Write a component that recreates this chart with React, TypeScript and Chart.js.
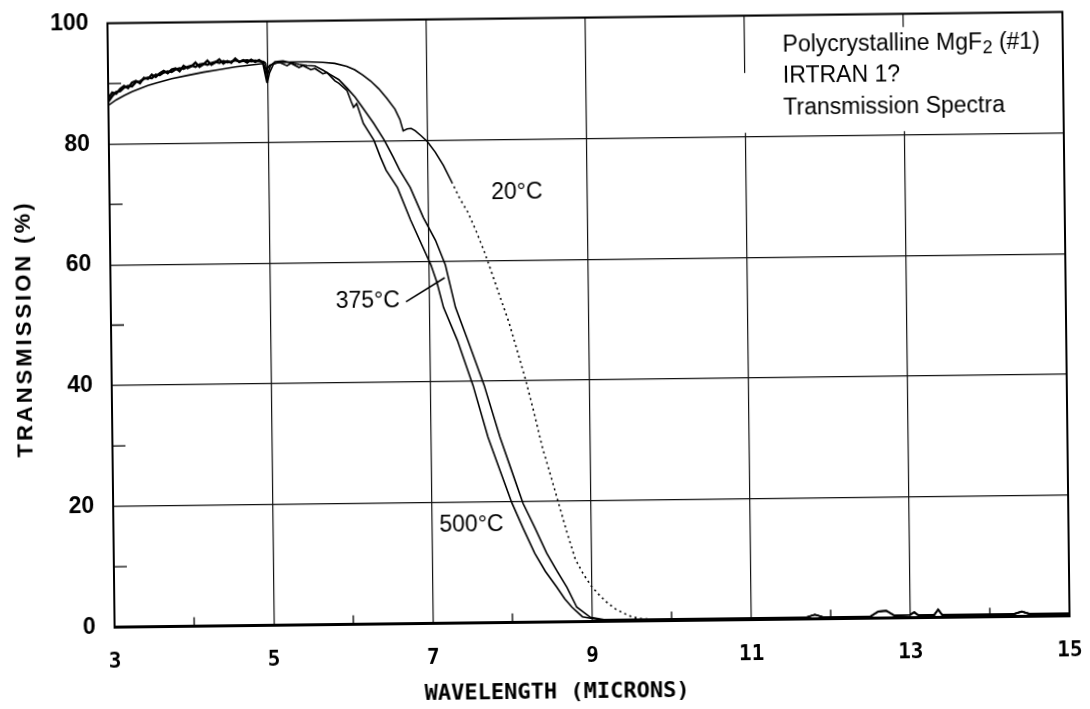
import { useEffect, useRef } from "react";
import { Chart, registerables } from "chart.js";

Chart.register(...registerables);

// Axis ticks
const xTicks = [3, 5, 7, 9, 11, 13, 15];
const yTicks = [0, 20, 40, 60, 80, 100];
const xMinor = [4, 6, 8, 10, 12, 14];
const yMinor = [10, 30, 50, 70, 90];

// 20 °C spectrum (wavelength in microns, transmission in %)
const wl20 = [
  3.0, 3.1, 3.2, 3.3, 3.4, 3.5, 3.6, 3.8, 4.0, 4.2, 4.4, 4.6, 4.8, 4.95, 4.99, 5.03, 5.1,
  5.3, 5.5, 5.7, 5.85, 6.0, 6.1, 6.2, 6.3, 6.4, 6.5, 6.6, 6.66, 6.7, 6.75, 6.8, 6.85, 6.92,
  7.0, 7.1, 7.2, 7.3, 7.4, 7.5, 7.6, 7.7, 7.8, 7.9, 8.0, 8.1, 8.2, 8.3, 8.4, 8.5, 8.6, 8.7,
  8.8, 8.9, 9.0, 9.1, 9.2, 9.3, 9.4, 9.5, 9.6, 9.7,
];
const tr20 = [
  86.4, 87.3, 88.0, 88.6, 89.1, 89.6, 90.0, 90.7, 91.2, 91.7, 92.1, 92.5, 92.8, 93.0, 91.9, 92.7, 93.1,
  93.2, 93.2, 93.1, 92.9, 92.4, 91.8, 90.9, 89.9, 88.6, 87.0, 85.2, 83.5, 81.6, 81.9, 82.0, 81.6, 80.8,
  79.8, 78.0, 75.8, 73.1, 70.3, 68.0, 64.9, 61.5, 57.6, 53.6, 49.7, 45.0, 40.2, 34.8, 29.0, 24.3, 19.5, 14.7,
  10.3, 7.8, 5.8, 4.3, 3.0, 2.0, 1.3, 0.7, 0.4, 0.3,
];

// 375 °C spectrum
const wl375 = [
  3.0, 3.05, 3.1, 3.15, 3.2, 3.25, 3.3, 3.35, 3.4, 3.45, 3.5, 3.55, 3.6, 3.65, 3.7, 3.75, 3.8, 3.85, 3.9, 3.95,
  4.0, 4.05, 4.1, 4.15, 4.2, 4.25, 4.3, 4.35, 4.4, 4.45, 4.5, 4.55, 4.6, 4.65, 4.7, 4.75, 4.8, 4.85, 4.9, 4.95,
  4.98, 5.0, 5.04, 5.1, 5.2, 5.3, 5.4, 5.5, 5.6, 5.7, 5.8, 5.9, 6.0, 6.1,
  6.19, 6.33, 6.46, 6.57, 6.65, 6.78, 6.94, 7.09, 7.21, 7.33, 7.48, 7.68, 7.87, 8.0, 8.15, 8.3,
  8.44, 8.56, 8.69, 8.81, 8.98, 9.15,
];
const tr375 = [
  87.0, 87.9, 88.6, 88.7, 89.3, 89.6, 89.5, 90.2, 90.3, 90.7, 90.9, 90.8, 91.4, 91.3, 91.7, 91.9, 91.8, 92.2, 92.4, 92.3,
  92.6, 92.8, 92.6, 93.0, 93.1, 92.9, 93.2, 93.4, 93.2, 93.5, 93.3, 93.4, 93.6, 93.4, 93.5, 93.6, 93.4, 93.5, 93.4, 93.3,
  93.1, 91.0, 92.6, 93.3, 93.4, 93.1, 92.8, 92.6, 92.5, 91.8, 91.0, 90.2, 88.8, 87.3,
  85.6, 82.9, 80.1, 77.3, 75.1, 72.2, 67.2, 63.4, 59.3, 52.3, 46.8, 39.3, 30.7, 25.6, 19.7, 15.5,
  11.4, 8.6, 5.7, 2.4, 0.7, 0.3,
];

// 500 °C spectrum
const wl500 = [
  3.0, 3.05, 3.1, 3.15, 3.2, 3.25, 3.3, 3.35, 3.4, 3.45, 3.5, 3.55, 3.6, 3.65, 3.7, 3.75, 3.8, 3.85, 3.9, 3.95,
  4.0, 4.05, 4.1, 4.15, 4.2, 4.25, 4.3, 4.35, 4.4, 4.45, 4.5, 4.55, 4.6, 4.65, 4.7, 4.75, 4.8, 4.85, 4.9, 4.95,
  5.0, 5.03, 5.08, 5.15, 5.25, 5.3, 5.4, 5.45, 5.55, 5.6, 5.7, 5.75, 5.85, 5.9, 6.0, 6.05, 6.08, 6.12, 6.2, 6.33,
  6.41, 6.48, 6.62, 6.78, 6.93, 7.03, 7.1, 7.18, 7.35, 7.54, 7.72, 7.85, 8.01, 8.15, 8.29, 8.42, 8.56, 8.66, 8.75, 8.88,
  9.0, 9.1,
];
const tr500 = [
  87.6, 88.5, 88.3, 89.1, 89.6, 89.2, 90.1, 90.4, 90.0, 90.9, 90.7, 91.4, 91.0, 91.6, 92.0, 91.6, 92.2, 92.4, 91.9, 92.8,
  92.4, 92.7, 93.3, 92.6, 93.0, 93.6, 92.9, 93.3, 93.8, 93.1, 93.5, 93.2, 93.9, 93.3, 93.6, 93.2, 93.7, 93.3, 93.6, 93.1,
  89.8, 91.5, 92.9, 93.2, 92.6, 93.0, 92.3, 92.6, 91.9, 92.1, 91.2, 91.4, 90.0, 89.6, 88.4, 86.6, 85.6, 86.2, 82.9, 80.1,
  77.3, 75.1, 72.2, 66.8, 62.3, 59.3, 56.5, 52.3, 46.8, 39.3, 30.7, 25.8, 19.8, 15.5, 11.4, 8.4, 5.8, 3.8, 2.4, 0.8,
  0.5, 0.3,
];

// Long-wavelength baseline shared by all three traces
const tailWl = [9.8, 10.5, 11.0, 11.7, 11.8, 11.9, 12.5, 12.6, 12.7, 12.8, 13.0, 13.05, 13.1, 13.3, 13.35, 13.4, 14.3, 14.4, 14.5, 15.0];
const tailTr = [0.3, 0.25, 0.3, 0.3, 0.7, 0.3, 0.3, 1.1, 1.2, 0.4, 0.5, 0.9, 0.4, 0.4, 1.3, 0.4, 0.4, 0.8, 0.4, 0.4];

// Text placed in data coordinates
const curveLabels = [
  { text: "20°C", x: 8.12, y: 71.1 },
  { text: "375°C", x: 6.23, y: 53.5 },
  { text: "500°C", x: 7.5, y: 16.2 },
];
const leaderFrom = [6.71, 53.3];
const leaderTo = [7.2, 57.2];
const noteX = 11.48;
const noteY = [93.9, 88.8, 83.5];
const noteLines = ["IRTRAN 1?", "Transmission Spectra"];

// Blank areas behind the note (grid hidden there)
const noteMasks = [
  { x0: 10.95, x1: 14.97, y0: 80.6, y1: 90.5 },
  { x0: 11.3, x1: 14.97, y0: 80.6, y1: 97.8 },
];

const toPoints = (xs: number[], ys: number[]) => {
  const pts = xs.map((x, i) => ({ x, y: ys[i] }));
  return pts.concat(tailWl.map((x, i) => ({ x, y: tailTr[i] })));
};

const SANS = '"Liberation Sans", Arial, sans-serif';
const MONO = '"DejaVu Sans Mono", monospace';

// Heated traces are noisier (heavier) below 5 µm
const heatedWidth = (c: any) => (c.p0.parsed.x < 4.97 ? 2.3 : 1.6);

const decor = {
  id: "decor",
  beforeDatasetsDraw(chart: any) {
    const { ctx, scales } = chart;
    const x = scales.x;
    const y = scales.y;
    ctx.save();
    ctx.fillStyle = "#fff";
    for (const m of noteMasks) {
      const px0 = x.getPixelForValue(m.x0);
      const px1 = x.getPixelForValue(m.x1);
      const py0 = y.getPixelForValue(m.y1);
      const py1 = y.getPixelForValue(m.y0);
      ctx.fillRect(px0, py0, px1 - px0, py1 - py0);
    }
    ctx.restore();
  },
  afterDatasetsDraw(chart: any) {
    const { ctx, chartArea: a, scales } = chart;
    const x = scales.x;
    const y = scales.y;
    ctx.save();
    ctx.strokeStyle = "#000";
    ctx.fillStyle = "#000";

    // frame
    ctx.lineWidth = 2;
    ctx.strokeRect(a.left, a.top, a.right - a.left, a.bottom - a.top);
    ctx.lineWidth = 3;
    ctx.beginPath();
    ctx.moveTo(a.left - 1, a.bottom);
    ctx.lineTo(a.right + 1, a.bottom);
    ctx.stroke();

    // inner minor ticks
    ctx.lineWidth = 1.3;
    ctx.beginPath();
    for (const v of xMinor) {
      const px = x.getPixelForValue(v);
      ctx.moveTo(px, a.bottom);
      ctx.lineTo(px, a.bottom - 9);
    }
    for (const v of yMinor) {
      const py = y.getPixelForValue(v);
      ctx.moveTo(a.left, py);
      ctx.lineTo(a.left + 13, py);
    }
    ctx.stroke();

    // curve labels
    ctx.font = `23px ${SANS}`;
    ctx.textAlign = "center";
    ctx.textBaseline = "middle";
    for (const l of curveLabels) {
      ctx.fillText(l.text, x.getPixelForValue(l.x), y.getPixelForValue(l.y));
    }

    // leader to the 375 °C trace
    ctx.lineWidth = 1.6;
    ctx.beginPath();
    ctx.moveTo(x.getPixelForValue(leaderFrom[0]), y.getPixelForValue(leaderFrom[1]));
    ctx.lineTo(x.getPixelForValue(leaderTo[0]), y.getPixelForValue(leaderTo[1]));
    ctx.stroke();

    // note block
    ctx.textAlign = "left";
    ctx.textBaseline = "alphabetic";
    const nx = x.getPixelForValue(noteX);
    let cx = nx;
    const by = y.getPixelForValue(noteY[0]);
    ctx.font = `23px ${SANS}`;
    ctx.fillText("Polycrystalline MgF", cx, by);
    cx += ctx.measureText("Polycrystalline MgF").width;
    ctx.font = `18px ${SANS}`;
    ctx.fillText("2", cx + 0.5, by + 4);
    cx += ctx.measureText("2").width + 0.5;
    ctx.font = `23px ${SANS}`;
    ctx.fillText(" (#1)", cx, by);
    noteLines.forEach((t, i) => {
      ctx.fillText(t, nx, y.getPixelForValue(noteY[i + 1]));
    });

    // axis titles
    ctx.font = `bold 22px ${MONO}`;
    ctx.textAlign = "center";
    ctx.textBaseline = "middle";
    ctx.fillText("WAVELENGTH (MICRONS)", x.getPixelForValue(8.55), a.bottom + 71);

    ctx.save();
    ctx.translate(a.left - 86, y.getPixelForValue(49.3));
    ctx.rotate(-Math.PI / 2);
    ctx.font = `bold 22px ${SANS}`;
    (ctx as any).letterSpacing = "3px";
    ctx.textAlign = "center";
    ctx.textBaseline = "middle";
    ctx.fillText("TRANSMISSION (%)", 1.5, 0);
    ctx.restore();

    ctx.restore();
  },
};

export default function App() {
  const ref = useRef<HTMLCanvasElement>(null);

  useEffect(() => {
    const canvas = ref.current;
    if (!canvas) return;
    const line = { borderColor: "#000", pointRadius: 0, showLine: true, fill: false, tension: 0 };
    const chart = new Chart(canvas, {
      type: "scatter",
      data: {
        datasets: [
          {
            label: "20°C",
            data: toPoints(wl20, tr20),
            ...line,
            borderWidth: 1.6,
            segment: {
              borderDash: (c: any) =>
                c.p0.parsed.x >= 7.3 && c.p0.parsed.x < 9.7 ? [2, 3.5] : undefined,
            },
          },
          {
            label: "375°C",
            data: toPoints(wl375, tr375),
            ...line,
            borderWidth: 1.6,
            segment: { borderWidth: heatedWidth },
          },
          {
            label: "500°C",
            data: toPoints(wl500, tr500),
            ...line,
            borderWidth: 1.6,
            segment: { borderWidth: heatedWidth },
          },
        ],
      },
      options: {
        responsive: false,
        animation: false,
        layout: { padding: { top: 17.5, right: 24, left: 0, bottom: 0 } },
        plugins: { legend: { display: false }, tooltip: { enabled: false } },
        scales: {
          x: {
            type: "linear",
            min: 3,
            max: 15,
            afterBuildTicks: (s: any) => {
              s.ticks = xTicks.map((v) => ({ value: v }));
            },
            afterFit: (s: any) => {
              s.height = 87.5;
              s.paddingLeft = 0;
              s.paddingRight = 0;
            },
            ticks: {
              color: "#000",
              font: { family: MONO, size: 21, weight: "bold" },
              padding: 22,
              maxRotation: 0,
            },
            grid: { color: "#111", lineWidth: 1.2, drawTicks: false },
            border: { display: false },
          },
          y: {
            type: "linear",
            min: 0,
            max: 100,
            afterBuildTicks: (s: any) => {
              s.ticks = yTicks.map((v) => ({ value: v }));
            },
            afterFit: (s: any) => {
              s.width = 111;
              s.paddingTop = 0;
              s.paddingBottom = 0;
            },
            ticks: {
              color: "#000",
              font: { family: SANS, size: 23, weight: "bold" },
              padding: 19,
            },
            grid: { color: "#111", lineWidth: 1.2, drawTicks: false },
            border: { display: false },
          },
        },
      },
      plugins: [decor],
    } as any);
    return () => chart.destroy();
  }, []);

  return (
    <div
      style={{
        position: "fixed",
        left: 0,
        top: 0,
        width: 1090,
        height: 709,
        background: "#fff",
        overflow: "hidden",
      }}
    >
      <canvas
        ref={ref}
        width={1090}
        height={709}
        style={{
          display: "block",
          width: 1090,
          height: 709,
          transform: "rotate(-0.68deg)",
          transformOrigin: "589px 321px",
        }}
      />
    </div>
  );
}
